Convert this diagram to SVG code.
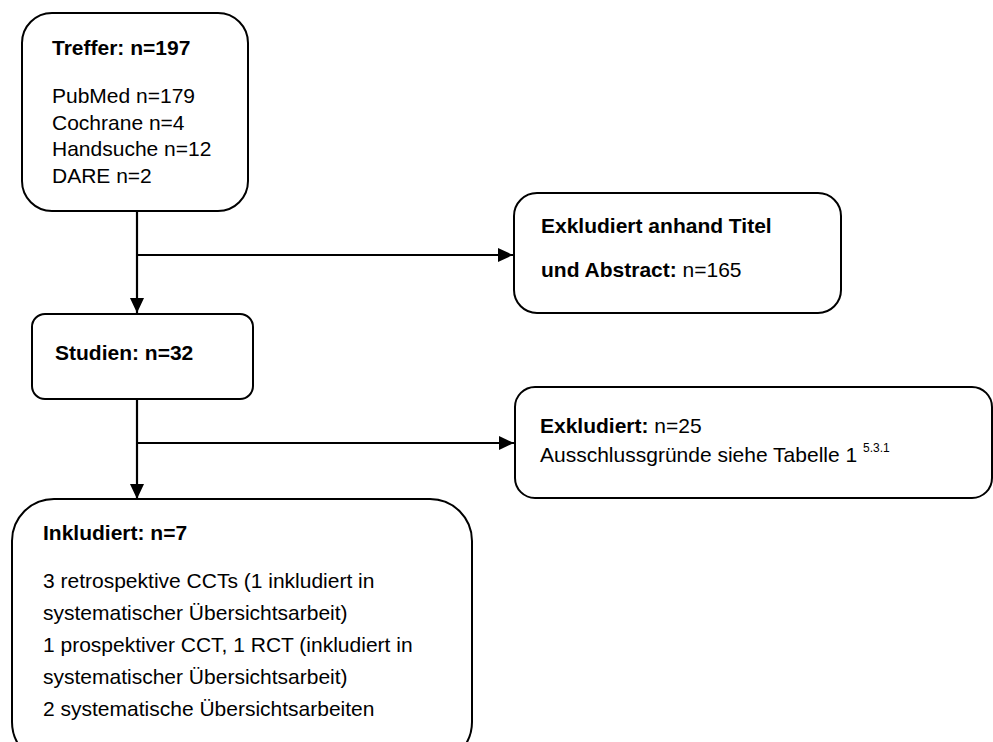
<svg xmlns="http://www.w3.org/2000/svg" width="993" height="742" viewBox="0 0 993 742">
<style>
.box{fill:#fff;stroke:#000;stroke-width:2}
.t{font-family:"Liberation Sans",Arial,sans-serif;font-size:21px;fill:#000}
.b{font-weight:bold}
.sup{font-size:12px}
.con{stroke:#000;stroke-width:2.2;fill:none}
</style>
<defs>
<marker id="arr" markerWidth="15" markerHeight="14" refX="15" refY="7" orient="auto" markerUnits="userSpaceOnUse">
<path d="M0,0 L15,7 L0,14 Z" fill="#000"/>
</marker>
</defs>
<rect width="993" height="742" fill="#fff"/>
<g id="connectors">
<line class="con" x1="137" y1="211" x2="137" y2="313" marker-end="url(#arr)"/>
<line class="con" x1="137" y1="255" x2="513" y2="255" marker-end="url(#arr)"/>
<line class="con" x1="137" y1="399" x2="137" y2="499" marker-end="url(#arr)"/>
<line class="con" x1="137" y1="443" x2="514" y2="443" marker-end="url(#arr)"/>
</g>
<g id="treffer">
<rect class="box" x="22" y="13" width="226" height="198" rx="30" ry="30"/>
<text class="t b" x="52" y="55">Treffer: n=197</text>
<text class="t" x="52" y="103">PubMed n=179</text>
<text class="t" x="52" y="130">Cochrane n=4</text>
<text class="t" x="52" y="156">Handsuche n=12</text>
<text class="t" x="52" y="183">DARE n=2</text>
</g>
<g id="exkl1">
<rect class="box" x="514" y="193" width="327" height="120" rx="23" ry="23"/>
<text class="t b" x="541" y="233">Exkludiert anhand Titel</text>
<text class="t" x="541" y="277"><tspan class="b">und Abstract:</tspan> n=165</text>
</g>
<g id="studien">
<rect class="box" x="32" y="314" width="221" height="85" rx="13" ry="13"/>
<text class="t b" x="55" y="360">Studien: n=32</text>
</g>
<g id="exkl2">
<rect class="box" x="515" y="387" width="477" height="111" rx="20" ry="20"/>
<text class="t" x="540" y="433"><tspan class="b">Exkludiert:</tspan> n=25</text>
<text class="t" x="540" y="462">Ausschlussgründe siehe Tabelle 1 <tspan class="sup" dy="-10">5.3.1</tspan></text>
</g>
<g id="inkludiert">
<rect class="box" x="12" y="499" width="460" height="265" rx="42" ry="42"/>
<text class="t b" x="43" y="540">Inkludiert: n=7</text>
<text class="t" x="43" y="588">3 retrospektive CCTs (1 inkludiert in</text>
<text class="t" x="43" y="620">systematischer Übersichtsarbeit)</text>
<text class="t" x="43" y="652">1 prospektiver CCT, 1 RCT (inkludiert in</text>
<text class="t" x="43" y="684">systematischer Übersichtsarbeit)</text>
<text class="t" x="43" y="716">2 systematische Übersichtsarbeiten</text>
</g>
</svg>
